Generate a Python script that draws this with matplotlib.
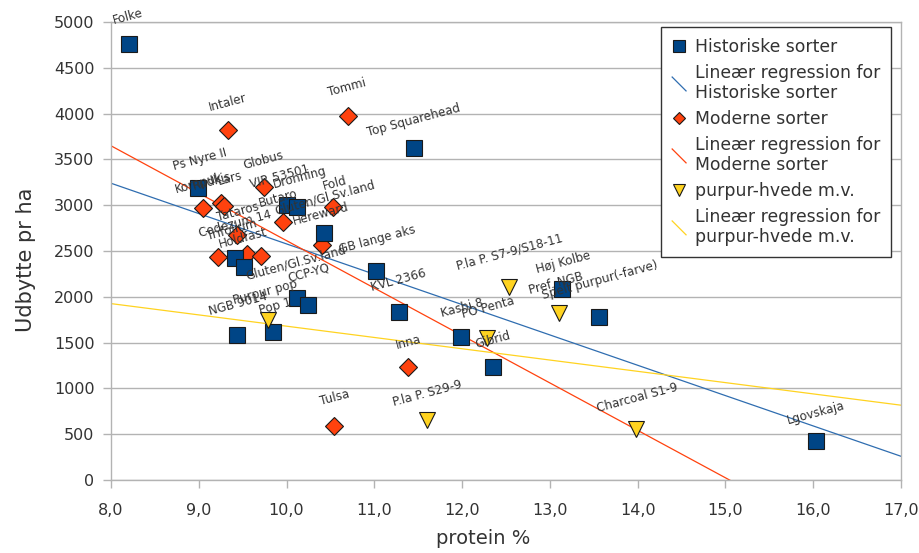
import matplotlib
matplotlib.use("Agg")
import matplotlib.pyplot as plt
import numpy as np
from matplotlib.lines import Line2D
from matplotlib.legend_handler import HandlerLine2D
from matplotlib.ticker import FuncFormatter

# ---------------- data ----------------
hist_names = ["Folke", "Top Squarehead", "Ps Nyre II", "VIR 53501", "Dronning",
              "Gluten/Gl.Sv.land", "GB lange aks", "KVL 2366", "Kashi 8", "Gibrid",
              "Høj Kolbe", "Spelt purpur(-farve)", "Lgovskaja", "Trifolium", "Holdfast",
              "Gluten/Gl.Sv.land", "CCP-YQ", "NGB 9014", "Pop 1"]
hist_protein = [8.20, 11.45, 8.99, 10.00, 10.12, 10.43, 11.02, 11.28, 11.99, 12.35,
                13.14, 13.56, 16.03, 9.41, 9.51, 10.12, 10.24, 9.44, 9.85]
hist_yield = [4760, 3624, 3188, 3002, 2980, 2697, 2282, 1834, 1561, 1234,
              2085, 1779, 426, 2424, 2325, 1987, 1910, 1583, 1616]

mod_names = ["Intaler", "Tommi", "Globus", "Kornpuk", "Lars", "Rudkis", "Fold",
             "Butaro", "Tataros", "Codezum 14", "Hereward", "", "", "Inna", "Tulsa"]
mod_protein = [9.33, 10.70, 9.74, 9.05, 9.25, 9.29, 10.53, 9.96, 9.44, 9.22,
               10.40, 9.55, 9.71, 11.38, 10.54]
mod_yield = [3821, 3974, 3199, 2969, 3024, 2991, 2980, 2817, 2675, 2434,
             2565, 2467, 2445, 1234, 590]

pur_names = ["Purpur pop", "P.la P. S29-9", "PO Penta", "P.la P. S7-9/S18-11",
             "Pref. NGB", "Charcoal S1-9"]
pur_protein = [9.79, 11.60, 12.28, 12.53, 13.10, 13.98]
pur_yield = [1747, 655, 1550, 2107, 1823, 557]

series_names = ["Historiske sorter", "Moderne sorter", "purpur-hvede m.v."]
x_ticks = [8, 9, 10, 11, 12, 13, 14, 15, 16, 17]
y_ticks = [0, 500, 1000, 1500, 2000, 2500, 3000, 3500, 4000, 4500, 5000]

# label offsets (pixels, dx, dy up) - layout only
hist_off = [(-1, 27), (0, 28), (2, 28), (-7, 28), (3, 29), (1, 35), (1, 31), (0, 32),
            (1, 29), (0, 27), (1, 27), (1, 37), (0, 28), (-3, 28), (-1, 29), (-1, 35),
            (1, 32), (1, 31), (2, 26)]
mod_off = [(0, 27), (-1, 28), (0, 27), (-4, 25), (9, 25), (-12, 25), (2, 24), (-5, 24),
           (1, 23), (17, 33), (-1, 31), (0, 0), (0, 0), (1, 25), (1, 28)]
pur_off = [(-3, 28), (0, 27), (1, 30), (1, 35), (-3, 30), (1, 31)]

# ---------------- style ----------------
C_BLUE, C_ORANGE, C_YELLOW = "#004586", "#ff420e", "#ffd320"
L_BLUE = "#2f6db0"
GRID = "#b3b3b3"
TXT = "#333333"

fig = plt.figure(figsize=(9.2, 5.53), dpi=100)
ax = fig.add_axes([111 / 920, 1 - 480 / 553, (901 - 111) / 920, (480 - 22) / 553])

ax.set_xlim(8, 17)
ax.set_ylim(0, 5000)

# regression lines
xr = np.array([8.0, 17.0])
reg_handles = []
for xs, ys, col in [(hist_protein, hist_yield, L_BLUE),
                    (mod_protein, mod_yield, C_ORANGE),
                    (pur_protein, pur_yield, C_YELLOW)]:
    k, b = np.polyfit(xs, ys, 1)
    ln, = ax.plot(xr, k * xr + b, color=col, lw=0.9, zorder=2)
    reg_handles.append(ln)

edge = dict(markeredgecolor="#1a1a1a", markeredgewidth=0.8, linestyle="none")
h_mod, = ax.plot(mod_protein, mod_yield, marker="D", markersize=8.7,
                 markerfacecolor=C_ORANGE, zorder=3, **edge)
h_hist, = ax.plot(hist_protein, hist_yield, marker="s", markersize=12,
                  markerfacecolor=C_BLUE, zorder=4, **edge)
h_pur, = ax.plot(pur_protein, pur_yield, marker="v", markersize=12,
                 markerfacecolor=C_YELLOW, zorder=5, **edge)

for names, xs, ys, offs in [(hist_names, hist_protein, hist_yield, hist_off),
                            (mod_names, mod_protein, mod_yield, mod_off),
                            (pur_names, pur_protein, pur_yield, pur_off)]:
    for n, x, y, (dx, dy) in zip(names, xs, ys, offs):
        if not n:
            continue
        ax.annotate(n, (x, y), xytext=(dx, dy), textcoords="offset pixels",
                    ha="center", va="center", rotation=15, fontsize=8.6,
                    color=TXT, zorder=6)

# axes styling
ax.set_xticks(x_ticks)
ax.set_yticks(y_ticks)
ax.xaxis.set_major_formatter(FuncFormatter(lambda v, p: f"{v:.1f}".replace(".", ",")))
ax.yaxis.grid(True, color=GRID, lw=1.0, zorder=0)
ax.set_axisbelow(True)
for s in ax.spines.values():
    s.set_color(GRID)
    s.set_linewidth(1.0)
ax.tick_params(axis="both", colors=GRID, labelcolor=TXT, labelsize=11.5,
               length=5.8, width=1.0, direction="out")
ax.tick_params(axis="y", pad=6)
ax.tick_params(axis="x", pad=11)
ax.set_xlabel("protein %", fontsize=14, color=TXT, labelpad=8)
ax.set_ylabel("Udbytte pr ha", fontsize=15, color=TXT, labelpad=13)
ax.xaxis.label.set_x(0.471)
ax.yaxis.label.set_y(0.48)


class HandlerDiagonal(HandlerLine2D):
    def create_artists(self, legend, orig_handle, xdescent, ydescent, width,
                       height, fontsize, trans):
        cx = -xdescent + width / 2
        cy = -ydescent + height / 2
        s = 5.0
        line = Line2D([cx - s, cx + s], [cy + s, cy - s],
                      color=orig_handle.get_color(), lw=orig_handle.get_linewidth())
        line.set_transform(trans)
        return [line]


handles = [h_hist, reg_handles[0], h_mod, reg_handles[1], h_pur, reg_handles[2]]
labels = [series_names[0], "Lineær regression for\n" + series_names[0],
          series_names[1], "Lineær regression for\n" + series_names[1],
          series_names[2], "Lineær regression for\n" + series_names[2]]
hmap = {ln: HandlerDiagonal() for ln in reg_handles}
leg = fig.legend(handles, labels, handler_map=hmap, loc="upper right",
                 bbox_to_anchor=(891 / 920, 1 - 27 / 553), bbox_transform=fig.transFigure,
                 fontsize=12.4, frameon=True, fancybox=False, shadow=False,
                 edgecolor="#333333", framealpha=1, markerscale=0.72,
                 handlelength=0.8, handletextpad=0.5, labelspacing=0.44,
                 borderpad=0.64, borderaxespad=0)
leg.get_frame().set_linewidth(1.0)
for t in leg.get_texts():
    t.set_color(TXT)

fig.savefig("out.png", dpi=100)
